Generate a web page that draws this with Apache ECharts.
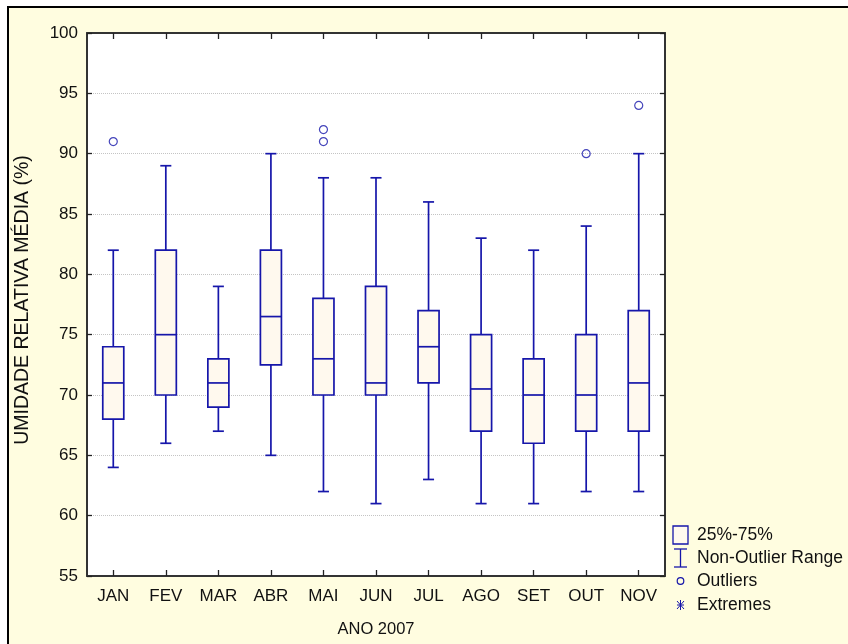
<!DOCTYPE html>
<html>
<head>
<meta charset="utf-8">
<script src="https://cdn.jsdelivr.net/npm/echarts@6/dist/echarts.min.js"></script>
<style>
html,body{margin:0;padding:0;background:#fff;}
#chart{width:848px;height:644px;}
</style>
</head>
<body>
<div id="chart"></div>
<script>
var months = ['JAN','FEV','MAR','ABR','MAI','JUN','JUL','AGO','SET','OUT','NOV'];
var minVals = [64, 66, 67, 65, 62, 61, 63, 61, 61, 62, 62];
var q1Vals  = [68, 70, 69, 72.5, 70, 70, 71, 67, 66, 67, 67];
var medVals = [71, 75, 71, 76.5, 73, 71, 74, 70.5, 70, 70, 71];
var q3Vals  = [74, 82, 73, 82, 78, 79, 77, 75, 73, 75, 77];
var maxVals = [82, 89, 79, 90, 88, 88, 86, 83, 82, 84, 90];
var outlierMonths = ['JAN','MAI','MAI','OUT','NOV'];
var outlierVals   = [91, 91, 92, 90, 94];
var yTicks = [55, 60, 65, 70, 75, 80, 85, 90, 95, 100];
var legendLabels = ['25%-75%', 'Non-Outlier Range', 'Outliers', 'Extremes'];
var xTitle = 'ANO 2007';
var yTitle = 'UMIDADE RELATIVA MÉDIA (%)';

var LINE = '#1616aa';
var FILL = '#fff9ee';
var BG = '#fffde0';
var FONT = 'Liberation Sans, Arial, sans-serif';

var boxData = months.map(function (m, i) {
  return [i, minVals[i], q1Vals[i], medVals[i], q3Vals[i], maxVals[i]];
});
var outData = outlierMonths.map(function (m, i) {
  return [months.indexOf(m), outlierVals[i]];
});

function renderBox(params, api) {
  var i = api.value(0);
  var pMin = api.coord([i, api.value(1)]);
  var pQ1 = api.coord([i, api.value(2)]);
  var pMed = api.coord([i, api.value(3)]);
  var pQ3 = api.coord([i, api.value(4)]);
  var pMax = api.coord([i, api.value(5)]);
  var bw = api.size([1, 0])[0] * 0.40;
  var cw = api.size([1, 0])[0] * 0.21;
  var x = pMed[0];
  var st = {stroke: LINE, lineWidth: 1.7, fill: null};
  return {
    type: 'group',
    children: [
      {type: 'line', shape: {x1: x, y1: pMin[1], x2: x, y2: pQ1[1]}, style: st},
      {type: 'line', shape: {x1: x, y1: pQ3[1], x2: x, y2: pMax[1]}, style: st},
      {type: 'line', shape: {x1: x - cw / 2, y1: pMin[1], x2: x + cw / 2, y2: pMin[1]}, style: st},
      {type: 'line', shape: {x1: x - cw / 2, y1: pMax[1], x2: x + cw / 2, y2: pMax[1]}, style: st},
      {type: 'rect', shape: {x: x - bw / 2, y: pQ3[1], width: bw, height: pQ1[1] - pQ3[1]},
        style: {stroke: LINE, lineWidth: 1.7, fill: FILL}},
      {type: 'line', shape: {x1: x - bw / 2, y1: pMed[1], x2: x + bw / 2, y2: pMed[1]}, style: st}
    ]
  };
}

var chart = echarts.init(document.getElementById('chart'), null, {renderer: 'canvas'});

var lx = 673;
var legendY = [535, 558, 581, 605];
var graphics = [
  {type: 'rect', z: -10, shape: {x: 8, y: 7, width: 900, height: 700},
    style: {fill: BG, stroke: '#000', lineWidth: 2}},
  {type: 'text', x: 23, y: 300, rotation: Math.PI / 2,
    style: {text: yTitle, fill: '#111', font: '19.5px ' + FONT, textAlign: 'center', textVerticalAlign: 'middle'}},
  // legend icons
  {type: 'rect', shape: {x: lx, y: legendY[0] - 9, width: 15, height: 18},
    style: {fill: FILL, stroke: LINE, lineWidth: 1.3}},
  {type: 'line', shape: {x1: lx + 7.5, y1: legendY[1] - 9, x2: lx + 7.5, y2: legendY[1] + 9}, style: {stroke: LINE, lineWidth: 1.3}},
  {type: 'line', shape: {x1: lx + 1, y1: legendY[1] - 9, x2: lx + 14, y2: legendY[1] - 9}, style: {stroke: LINE, lineWidth: 1.3}},
  {type: 'line', shape: {x1: lx + 1, y1: legendY[1] + 9, x2: lx + 14, y2: legendY[1] + 9}, style: {stroke: LINE, lineWidth: 1.3}},
  {type: 'circle', shape: {cx: lx + 7.5, cy: legendY[2], r: 3.3}, style: {fill: null, stroke: LINE, lineWidth: 1.2}},
  {type: 'line', shape: {x1: lx + 7.5, y1: legendY[3] - 5, x2: lx + 7.5, y2: legendY[3] + 5}, style: {stroke: LINE, lineWidth: 1}},
  {type: 'line', shape: {x1: lx + 4, y1: legendY[3] - 4, x2: lx + 11, y2: legendY[3] + 4}, style: {stroke: LINE, lineWidth: 1}},
  {type: 'line', shape: {x1: lx + 11, y1: legendY[3] - 4, x2: lx + 4, y2: legendY[3] + 4}, style: {stroke: LINE, lineWidth: 1}},
  {type: 'line', shape: {x1: lx + 4, y1: legendY[3], x2: lx + 11, y2: legendY[3]}, style: {stroke: LINE, lineWidth: 1}}
];
legendLabels.forEach(function (t, i) {
  graphics.push({type: 'text', x: 697, y: legendY[i],
    style: {text: t, fill: '#111', font: '17.5px ' + FONT, textVerticalAlign: 'middle', textAlign: 'left'}});
});

chart.setOption({
  animation: false,
  backgroundColor: '#ffffff',
  graphic: graphics,
  grid: {left: 87, top: 33, right: 183, bottom: 68, show: true, backgroundColor: '#ffffff', borderWidth: 0},
  xAxis: [{
    type: 'category', data: months, position: 'bottom',
    name: xTitle, nameLocation: 'middle', nameGap: 45,
    nameTextStyle: {color: '#111', fontSize: 16.5, fontFamily: FONT},
    axisLine: {lineStyle: {color: '#333', width: 2}},
    axisTick: {show: true, inside: true, length: 6, alignWithLabel: true, lineStyle: {color: '#222', width: 1.3}},
    axisLabel: {color: '#111', fontSize: 17, fontFamily: FONT, margin: 12},
    splitLine: {show: false}
  }, {
    type: 'category', data: months, position: 'top',
    axisLine: {lineStyle: {color: '#333', width: 2}},
    axisTick: {show: true, inside: true, length: 6, alignWithLabel: true, lineStyle: {color: '#222', width: 1.3}},
    axisLabel: {show: false}
  }],
  yAxis: [{
    type: 'value', min: 55, max: 100, interval: 5, position: 'left',
    axisLine: {show: true, lineStyle: {color: '#333', width: 2}},
    axisTick: {show: true, inside: true, length: 5, lineStyle: {color: '#222', width: 1.3}},
    axisLabel: {color: '#111', fontSize: 17, fontFamily: FONT, margin: 9},
    splitLine: {show: true, lineStyle: {color: '#c4c4c4', type: [1, 1], width: 1}}
  }, {
    type: 'value', min: 55, max: 100, interval: 5, position: 'right',
    axisLine: {show: true, lineStyle: {color: '#333', width: 2}},
    axisTick: {show: true, inside: true, length: 5, lineStyle: {color: '#222', width: 1.3}},
    axisLabel: {show: false},
    splitLine: {show: false}
  }],
  series: [{
    type: 'custom', renderItem: renderBox, data: boxData,
    xAxisIndex: 0, yAxisIndex: 0, encode: {x: 0, y: [1, 2, 3, 4, 5]}
  }, {
    type: 'scatter', data: outData, xAxisIndex: 0, yAxisIndex: 0,
    symbol: 'circle', symbolSize: 8,
    itemStyle: {color: 'transparent', borderColor: LINE, borderWidth: 1.2}
  }]
});
</script>
</body>
</html>
